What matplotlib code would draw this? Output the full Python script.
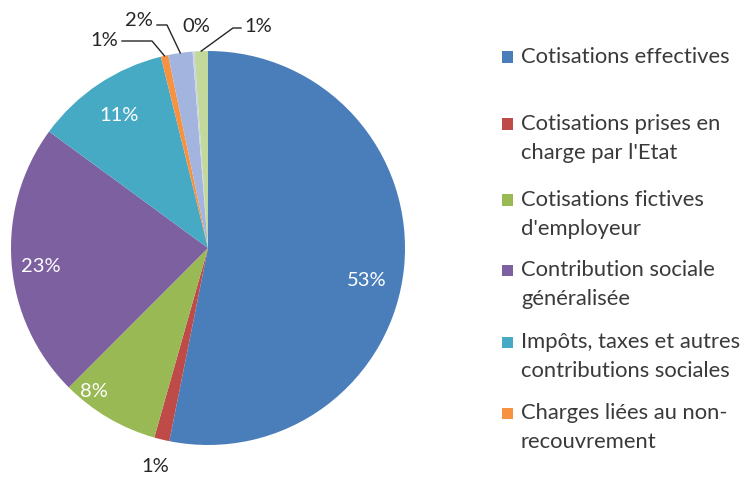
import matplotlib
matplotlib.use("Agg")
import matplotlib.pyplot as plt
from matplotlib.patches import Rectangle
import numpy as np

plt.rcParams['font.family'] = ['Lato', 'DejaVu Sans']

# ---- data ----
categories = [
    "Cotisations effectives",
    "Cotisations prises en\ncharge par l'Etat",
    "Cotisations fictives\nd'employeur",
    "Contribution sociale\ngénéralisée",
    "Impôts, taxes et autres\ncontributions sociales",
    "Charges liées au non-\nrecouvrement",
    "Autres 1",
    "Autres 2",
    "Autres 3",
]
values = [53.2, 1.25, 8.1, 22.6, 11.1, 0.6, 2.0, 0.15, 1.1]
legend_count = 6
colors = ["#4A7EBB", "#BE4B48", "#98B954", "#7D60A0", "#46AAC5",
          "#F69240", "#A3B5DE", "#C9D3E8", "#C3D89B"]

W, H = 748, 479
fig = plt.figure(figsize=(W / 100, H / 100), dpi=100)
cx, cy, R = 208, 248, 197
ax = fig.add_axes([(cx - R) / W, (H - cy - R) / H, 2 * R / W, 2 * R / H])
wedges, _ = ax.pie(values, colors=colors, startangle=90, counterclock=False,
                   radius=1, wedgeprops=dict(linewidth=0))
ax.set_xlim(-1, 1)
ax.set_ylim(-1, 1)
ax.set_aspect('equal')
ax.axis('off')

total = sum(values)
labels = ["%d%%" % round(v / total * 100) for v in values]
mids = [np.deg2rad((w.theta1 + w.theta2) / 2) for w in wedges]

fs = 14.5
# inside labels: (index, radius, angle offset deg)
inside = {0: (0.82, -6), 2: (0.93, -8), 3: (0.855, 2), 4: (0.81, 0)}
for i, (r, off) in inside.items():
    a = mids[i] + np.deg2rad(off)
    ax.text(r * np.cos(a), r * np.sin(a), labels[i], color="white",
            ha="center", va="center", fontsize=fs)

def px(x, y):
    return (x - cx) / R, (cy - y) / R

# outside labels: index -> (text pos px, leader elbow pts px or None)
outside = {
    1: ((155, 467), None),
    5: ((104, 40), [(122, 41), (152, 41)]),
    6: ((139, 21), [(157, 25), (167, 25)]),
    7: ((196, 26), None),
    8: ((258, 27), [(241, 28), (233, 28)]),
}
for i, (tp, pts) in outside.items():
    tx, ty = px(*tp)
    ax.text(tx, ty, labels[i], color="#262626", ha="center", va="center",
            fontsize=fs, clip_on=False)
    if pts:
        xs = [px(*p)[0] for p in pts] + [np.cos(mids[i])]
        ys = [px(*p)[1] for p in pts] + [np.sin(mids[i])]
        ax.plot(xs, ys, color="#262626", lw=1, clip_on=False)

# legend
lfs = 15.8
entry_y = [57, 124, 200, 270, 342, 413]
for k in range(legend_count):
    y = entry_y[k]
    fig.patches.append(Rectangle((502 / W, (H - y - 5.5) / H), 11 / W, 11 / H,
                                 transform=fig.transFigure, facecolor=colors[k],
                                 edgecolor="none"))
    fig.text(521 / W, (H - y + 10) / H, categories[k], ha="left", va="top",
             fontsize=lfs, color="#3a3a3a", linespacing=1.55)

fig.savefig("out.png", dpi=100, facecolor="white")
